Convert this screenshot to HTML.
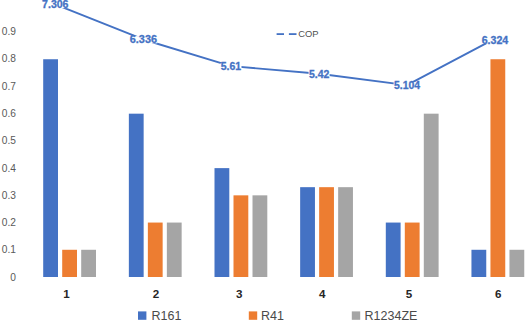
<!DOCTYPE html>
<html><head><meta charset="utf-8"><style>
html,body{margin:0;padding:0;background:#fff;}
body{width:525px;height:321px;overflow:hidden;}
svg{display:block;}
text{font-family:"Liberation Sans",sans-serif;}
.ax{font-size:10.2px;fill:#595959;}
.cat{font-size:11.6px;font-weight:bold;fill:#262626;}
.dl{font-size:10.1px;font-weight:bold;fill:#4472C4;stroke:#4472C4;stroke-width:0.3px;}
.lg{font-size:12.5px;fill:#4a4a4a;}
.cop{font-size:9.4px;fill:#505050;}
</style></head><body>
<svg width="525" height="321" viewBox="0 0 525 321">
<rect x="43.20" y="59.24" width="14.8" height="217.76" fill="#4472C4"/>
<rect x="62.20" y="249.78" width="14.8" height="27.22" fill="#ED7D31"/>
<rect x="81.20" y="249.78" width="14.8" height="27.22" fill="#A5A5A5"/>
<rect x="128.85" y="113.68" width="14.8" height="163.32" fill="#4472C4"/>
<rect x="147.85" y="222.56" width="14.8" height="54.44" fill="#ED7D31"/>
<rect x="166.85" y="222.56" width="14.8" height="54.44" fill="#A5A5A5"/>
<rect x="214.50" y="168.12" width="14.8" height="108.88" fill="#4472C4"/>
<rect x="233.50" y="195.34" width="14.8" height="81.66" fill="#ED7D31"/>
<rect x="252.50" y="195.34" width="14.8" height="81.66" fill="#A5A5A5"/>
<rect x="300.15" y="187.17" width="14.8" height="89.83" fill="#4472C4"/>
<rect x="319.15" y="187.17" width="14.8" height="89.83" fill="#ED7D31"/>
<rect x="338.15" y="187.17" width="14.8" height="89.83" fill="#A5A5A5"/>
<rect x="385.80" y="222.56" width="14.8" height="54.44" fill="#4472C4"/>
<rect x="404.80" y="222.56" width="14.8" height="54.44" fill="#ED7D31"/>
<rect x="423.80" y="113.68" width="14.8" height="163.32" fill="#A5A5A5"/>
<rect x="471.45" y="249.78" width="14.8" height="27.22" fill="#4472C4"/>
<rect x="490.45" y="59.24" width="14.8" height="217.76" fill="#ED7D31"/>
<rect x="509.45" y="249.78" width="14.8" height="27.22" fill="#A5A5A5"/>
<text x="16" y="280.65" text-anchor="end" class="ax">0</text>
<text x="16" y="253.37" text-anchor="end" class="ax">0.1</text>
<text x="16" y="226.09" text-anchor="end" class="ax">0.2</text>
<text x="16" y="198.81" text-anchor="end" class="ax">0.3</text>
<text x="16" y="171.53" text-anchor="end" class="ax">0.4</text>
<text x="16" y="144.25" text-anchor="end" class="ax">0.5</text>
<text x="16" y="116.97" text-anchor="end" class="ax">0.6</text>
<text x="16" y="89.69" text-anchor="end" class="ax">0.7</text>
<text x="16" y="62.41" text-anchor="end" class="ax">0.8</text>
<text x="16" y="35.13" text-anchor="end" class="ax">0.9</text>
<text x="66.5" y="297.6" text-anchor="middle" class="cat">1</text>
<text x="156.0" y="297.6" text-anchor="middle" class="cat">2</text>
<text x="239.2" y="297.6" text-anchor="middle" class="cat">3</text>
<text x="322.3" y="297.6" text-anchor="middle" class="cat">4</text>
<text x="408.9" y="297.6" text-anchor="middle" class="cat">5</text>
<text x="498.3" y="297.6" text-anchor="middle" class="cat">6</text>
<polyline points="55.30,4.44 143.40,39.49 231.00,66.17 319.10,73.74 407.00,85.17 495.00,38.67" fill="none" stroke="#4472C4" stroke-width="1.9" stroke-linejoin="round"/>
<rect x="41.80" y="0.90" width="27.00" height="7.2" fill="#fff"/>
<rect x="129.50" y="36.10" width="27.80" height="7.2" fill="#fff"/>
<rect x="220.50" y="63.20" width="21.00" height="7.2" fill="#fff"/>
<rect x="308.60" y="70.90" width="21.00" height="7.2" fill="#fff"/>
<rect x="393.65" y="82.40" width="26.70" height="7.2" fill="#fff"/>
<rect x="481.40" y="36.50" width="27.20" height="7.2" fill="#fff"/>
<text x="55.30" y="7.95" text-anchor="middle" class="dl" textLength="26.4" lengthAdjust="spacingAndGlyphs">7.306</text>
<text x="143.40" y="43.15" text-anchor="middle" class="dl" textLength="27.2" lengthAdjust="spacingAndGlyphs">6.336</text>
<text x="231.00" y="70.25" text-anchor="middle" class="dl" textLength="20.4" lengthAdjust="spacingAndGlyphs">5.61</text>
<text x="319.10" y="77.95" text-anchor="middle" class="dl" textLength="20.4" lengthAdjust="spacingAndGlyphs">5.42</text>
<text x="407.00" y="89.45" text-anchor="middle" class="dl" textLength="26.1" lengthAdjust="spacingAndGlyphs">5.104</text>
<text x="495.00" y="43.55" text-anchor="middle" class="dl" textLength="26.6" lengthAdjust="spacingAndGlyphs">6.324</text>
<rect x="138" y="311.4" width="8.4" height="8.4" fill="#4472C4"/>
<text x="151.5" y="319.5" class="lg">R161</text>
<rect x="248.8" y="311.4" width="8.4" height="8.4" fill="#ED7D31"/>
<text x="261" y="319.5" class="lg">R41</text>
<rect x="351.8" y="311.4" width="8.4" height="8.4" fill="#A5A5A5"/>
<text x="364.6" y="319.5" class="lg">R1234ZE</text>
<line x1="276.6" y1="34.1" x2="284" y2="34.1" stroke="#4472C4" stroke-width="1.8"/>
<line x1="288.9" y1="34.1" x2="296.5" y2="34.1" stroke="#4472C4" stroke-width="1.8"/>
<text x="298.2" y="37.4" class="cop">COP</text>
</svg>
</body></html>
